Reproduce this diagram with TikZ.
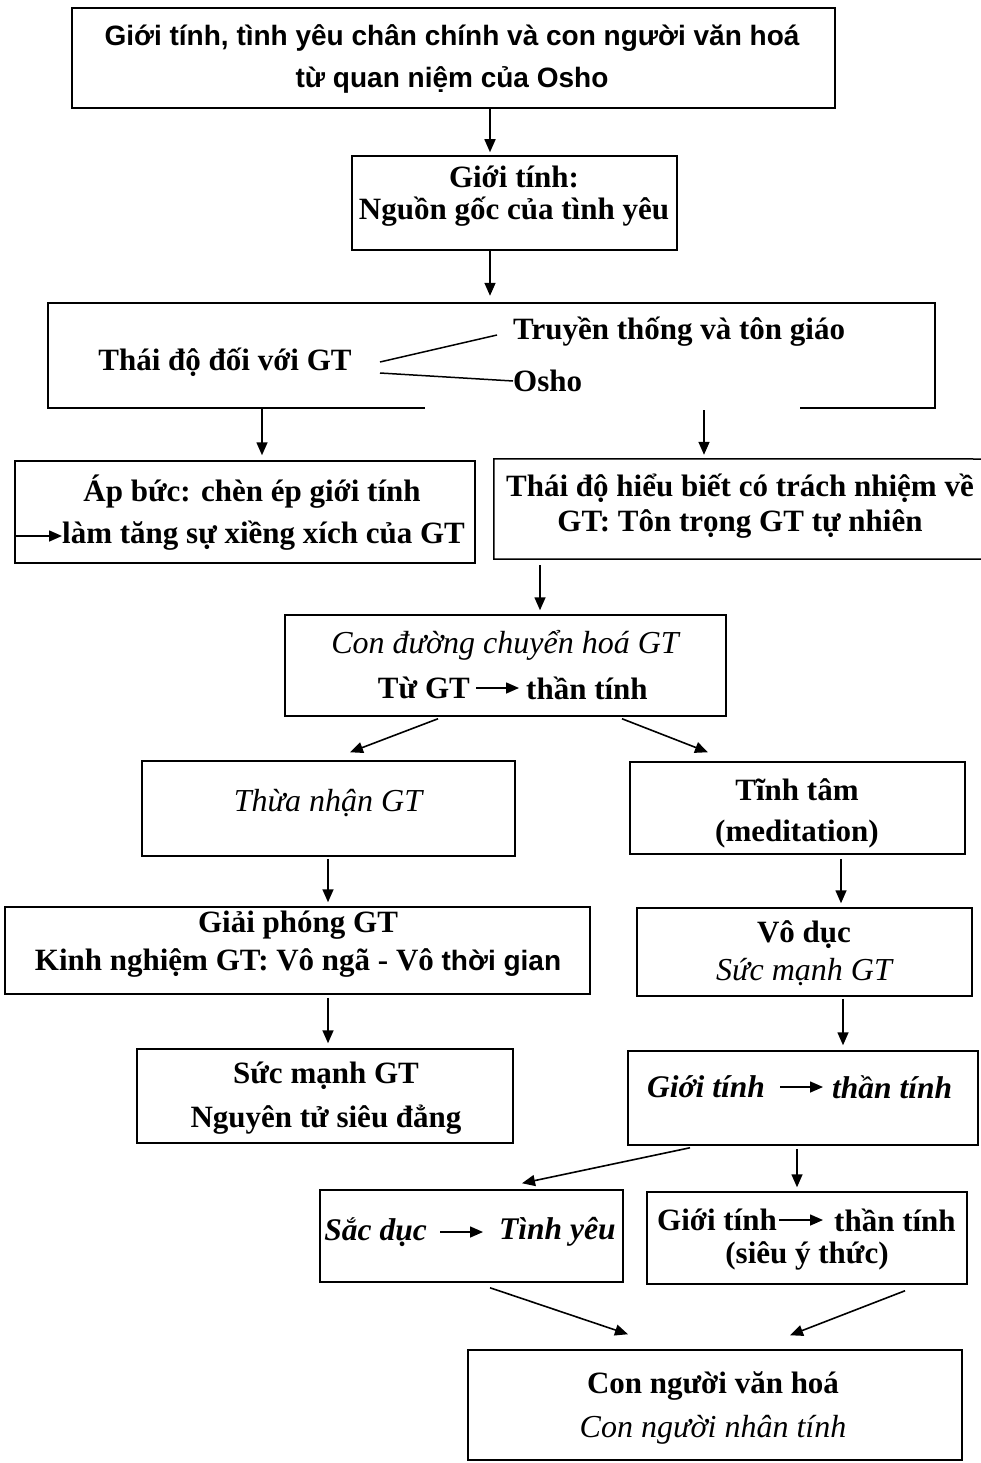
\documentclass[tikz,border=0pt]{standalone}
\usepackage{fontspec}
\setmainfont{Liberation Serif}
\newfontfamily\arialf{Liberation Sans}
\usetikzlibrary{arrows.meta,calc}
\tikzset{
  box/.style={draw, line width=1.5pt, inner sep=0pt},
  frame/.style={inner sep=0pt},
  bf/.style={font=\fontsize{31}{36}\selectfont\bfseries, inner sep=0pt, align=center},
  itf/.style={font=\fontsize{32}{36}\selectfont\itshape, inner sep=0pt},
  bif/.style={font=\fontsize{31.5}{36}\selectfont\bfseries\itshape, inner sep=0pt},
  af/.style={font=\fontsize{28}{36}\selectfont\arialf\bfseries, inner sep=0pt},
  arr/.style={line width=1.6pt, -{Triangle[length=13pt,width=11pt]}},
  plain/.style={line width=1.5pt},
}
\begin{document}
\begin{tikzpicture}[x=1pt,y=-1pt]
\useasboundingbox (0,0) rectangle (981,1463);
\fill[white] (0,0) rectangle (981,1463);

% ---------- boxes ----------
\node[box, minimum width=763pt, minimum height=100pt] (t1) at (453.5,58) {};
\node[box, minimum width=325pt, minimum height=94pt] (b2) at (514.5,203) {};
\node[frame, minimum width=887pt, minimum height=105pt] (b3) at (491.5,355.5) {};
\draw[plain] ($(b3.south west)+(377,0)$) -- (b3.south west) -- (b3.north west)
  -- (b3.north east) -- (b3.south east) -- ++(-135,0);
\node[box, minimum width=460pt, minimum height=102pt] (b4) at (245,512) {};
\node[frame, minimum width=496pt, minimum height=100pt] (b5) at (742,509) {};
\coordinate (b5tr) at (981,459);
\coordinate (b5br) at (981,559);
\draw[plain] (b5tr) -- (b5.north west) -- (b5.south west) -- (b5br);
\node[box, minimum width=441pt, minimum height=101pt] (b6) at (505.5,665.5) {};
\node[box, minimum width=373pt, minimum height=95pt] (b7) at (328.5,808.5) {};
\node[box, minimum width=335pt, minimum height=92pt] (b8) at (797.5,808) {};
\node[box, minimum width=585pt, minimum height=87pt] (b9) at (297.5,950.5) {};
\node[box, minimum width=335pt, minimum height=88pt] (b10) at (804.5,952) {};
\node[box, minimum width=376pt, minimum height=94pt] (b11) at (325,1096) {};
\node[box, minimum width=350pt, minimum height=94pt] (b12) at (803,1098) {};
\node[box, minimum width=303pt, minimum height=92pt] (b13) at (471.5,1236) {};
\node[box, minimum width=320pt, minimum height=92pt] (b14) at (807,1238) {};
\node[box, minimum width=494pt, minimum height=110pt] (b15) at (715,1405) {};

% ---------- texts ----------
\node[af] (t1a) at (452,38) {Giới tính, tình yêu chân chính và con người văn hoá};
\node[af] (t1b) at (452,80) {từ quan niệm của Osho};

\node[bf] (b2a) at (514,177) {Giới tính:};
\node[bf] (b2b) at (514,212) {Nguồn gốc của tình yêu};

\node[bf] (b3a) at (225,362) {Thái độ đối với GT};
\node[bf, anchor=west] (b3b) at (513,332) {Truyền thống và tôn giáo};
\node[bf, anchor=west] (b3c) at (513,381) {Osho};
\coordinate (b3s1) at (380,362);
\coordinate (b3s2) at (380,373);
\draw[plain] (b3s1) -- ($(b3b.west)+(-16,3)$);
\draw[plain] (b3s2) -- (b3c.west);

\node[bf] (b4a) at (252,492) {Áp bức: chèn ép giới tính};
\node[bf, anchor=west] (b4b) at (62,536) {làm tăng sự xiềng xích của GT};
\draw[arr] (b4.west |- b4b.west) -- (b4b.west);

\node[bf] (b5a) at (740,488) {Thái độ hiểu biết có trách nhiệm về};
\node[bf] (b5b) at (740,524) {GT: Tôn trọng GT tự nhiên};

\node[itf] (b6a) at (505,645) {Con đường chuyển hoá GT};
\node[bf, anchor=east] (b6b) at (470,688) {Từ GT};
\node[bf, anchor=west] (b6c) at (526,688) {thần tính};
\draw[arr] ($(b6b.east)+(6,0)$) -- ($(b6c.west)+(-7,0)$);

\node[itf] (b7a) at (328,803) {Thừa nhận GT};

\node[bf] (b8a) at (797,790) {Tĩnh tâm};
\node[bf] (b8b) at (797,834) {(meditation)};

\node[bf] (b9a) at (298,925) {Giải phóng GT};
\node[bf] (b9b) at (298,963) {Kinh nghiệm GT: Vô ngã - Vô {\arialf\fontsize{28}{36}\selectfont thời gian}};

\node[bf] (b10a) at (804,935) {Vô dục};
\node[itf] (b10b) at (804,972) {Sức mạnh GT};

\node[bf] (b11a) at (326,1076) {Sức mạnh GT};
\node[bf] (b11b) at (326,1120) {Nguyên tử siêu đẳng};

\node[bif, anchor=east] (b12a) at (765,1087) {Giới tính};
\node[bif, anchor=west] (b12b) at (832,1087) {thần tính};
\draw[arr] ($(b12a.east)+(15,0)$) -- ($(b12b.west)+(-9,0)$);

\node[bif, anchor=east] (b13a) at (427,1232) {Sắc dục};
\node[bif, anchor=west] (b13b) at (499,1232) {Tình yêu};
\draw[arr] ($(b13a.east)+(13,0)$) -- ($(b13b.west)+(-16,0)$);

\node[bf, anchor=east] (b14a) at (777,1220) {Giới tính};
\node[bf, anchor=west] (b14b) at (834,1220) {thần tính};
\draw[arr] ($(b14a.east)+(2,0)$) -- ($(b14b.west)+(-11,0)$);
\node[bf] (b14c) at (807,1256) {(siêu ý thức)};

\node[bf] (b15a) at (713,1386) {Con người văn hoá};
\node[itf] (b15b) at (713,1430) {Con người nhân tính};

% ---------- connectors ----------
\draw[arr] (t1.south -| 490,0) -- ($(b2.north -| 490,0)+(0,-3)$);
\draw[arr] (b2.south -| 490,0) -- ($(b3.north -| 490,0)+(0,-7)$);
\draw[arr] (b3.south -| 262,0) -- ($(b4.north -| 262,0)+(0,-5)$);
\draw[arr] ($(b3.south -| 704,0)+(0,2)$) -- ($(b5.north -| 704,0)+(0,-4)$);
\draw[arr] ($(b5.south -| 540,0)+(0,6)$) -- ($(b6.north -| 540,0)+(0,-4)$);
\draw[arr] ($(b6.south -| 438,0)+(0,2)$) -- ($(b7.north -| 350,0)+(0,-8)$);
\draw[arr] ($(b6.south -| 622,0)+(0,2)$) -- ($(b8.north -| 708,0)+(0,-9)$);
\draw[arr] ($(b7.south -| 328,0)+(0,2)$) -- ($(b9.north -| 328,0)+(0,-4)$);
\draw[arr] ($(b8.south -| 841,0)+(0,4)$) -- ($(b10.north -| 841,0)+(0,-4)$);
\draw[arr] ($(b9.south -| 328,0)+(0,3)$) -- ($(b11.north -| 328,0)+(0,-5)$);
\draw[arr] ($(b10.south -| 843,0)+(0,2)$) -- ($(b12.north -| 843,0)+(0,-5)$);
\draw[arr] ($(b12.south -| 690,0)+(0,2)$) -- ($(b13.north -| 522,0)+(0,-6)$);
\draw[arr] ($(b12.south -| 797,0)+(0,3)$) -- ($(b14.north -| 797,0)+(0,-4)$);
\draw[arr] ($(b13.south -| 490,0)+(0,5)$) -- ($(b15.north -| 628,0)+(0,-15)$);
\draw[arr] ($(b14.south -| 905,0)+(0,6)$) -- ($(b15.north -| 790,0)+(0,-14)$);
\end{tikzpicture}
\end{document}
